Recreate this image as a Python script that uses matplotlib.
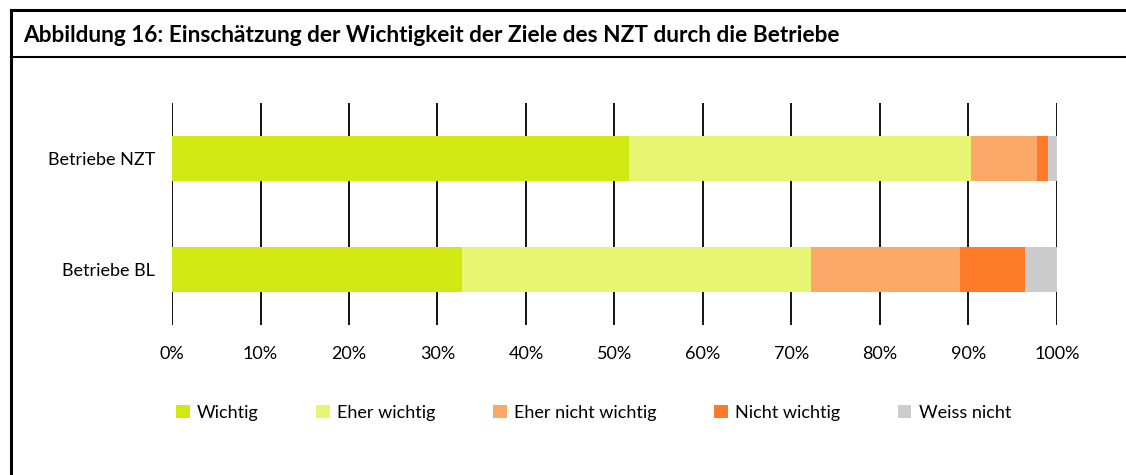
import matplotlib
matplotlib.use("Agg")
import matplotlib.pyplot as plt
from matplotlib.patches import Patch
from matplotlib.lines import Line2D
import numpy as np

plt.rcParams['font.family'] = ['Lato', 'DejaVu Sans']

title = "Abbildung 16: Einschätzung der Wichtigkeit der Ziele des NZT durch die Betriebe"
categories = ["Betriebe BL", "Betriebe NZT"]
series_names = ["Wichtig", "Eher wichtig", "Eher nicht wichtig", "Nicht wichtig", "Weiss nicht"]
values_bl = [32.8, 39.4, 16.8, 7.4, 3.6]
values_nzt = [51.6, 38.7, 7.4, 1.3, 1.0]
colors = ["#D2E812", "#E7F573", "#FCA868", "#FC7A28", "#CCCCCC"]
xticks = [0, 10, 20, 30, 40, 50, 60, 70, 80, 90, 100]
xtick_labels = [f"{t}%" for t in xticks]

W, H = 1126, 475
fig = plt.figure(figsize=(W / 100, H / 100), dpi=100)

ax = fig.add_axes([172 / W, 1 - 325 / H, (1057 - 172) / W, (325 - 103) / H])
data = np.array([values_bl, values_nzt])
y = np.arange(len(categories))
left = np.zeros(len(categories))
for i, name in enumerate(series_names):
    ax.barh(y, data[:, i], left=left, height=0.405, color=colors[i], label=name, zorder=3)
    left += data[:, i]

ax.set_xlim(0, 100)
ax.set_ylim(-0.5, 1.5)
ax.set_xticks(xticks)
ax.set_xticklabels(xtick_labels, fontsize=13)
ax.set_yticks(y)
ax.set_yticklabels(categories, fontsize=13)
ax.tick_params(axis='both', length=0)
ax.tick_params(axis='x', pad=15)
ax.tick_params(axis='y', pad=12)
for s in ax.spines.values():
    s.set_visible(False)
ax.grid(axis='x', color='black', linewidth=1.3, zorder=1)
ax.set_axisbelow(True)

handles = [Patch(facecolor=c, edgecolor='none') for c in colors]
fig.legend(handles, series_names, loc='center left', bbox_to_anchor=(176 / W, 1 - 413 / H),
           ncol=5, frameon=False, fontsize=13, handlelength=0.75, handleheight=0.75,
           handletextpad=0.4, columnspacing=3.2, borderaxespad=0, borderpad=0)

# frame lines
fig.add_artist(Line2D([11 / W, 11 / W], [0, 1 - 9.5 / H], color='black', linewidth=2.2, transform=fig.transFigure))
fig.add_artist(Line2D([11 / W, 1], [1 - 9.5 / H, 1 - 9.5 / H], color='black', linewidth=2.2, transform=fig.transFigure))
fig.add_artist(Line2D([11 / W, 1], [1 - 57 / H, 1 - 57 / H], color='black', linewidth=1.5, transform=fig.transFigure))
fig.text(23 / W, 1 - 35 / H, title, fontsize=16.3, fontweight='bold', ha='left', va='center')

fig.savefig("out.png", dpi=100)
